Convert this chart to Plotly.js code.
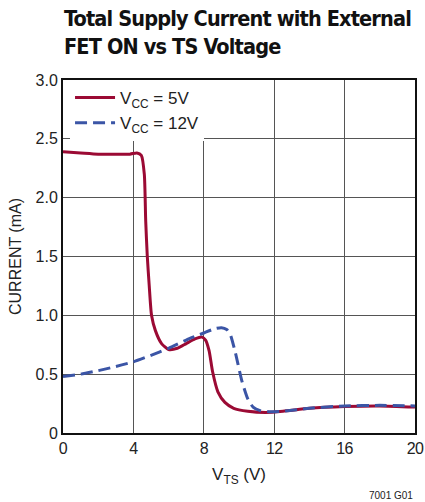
<!DOCTYPE html>
<html><head><meta charset="utf-8">
<script src="https://cdn.plot.ly/plotly-3.0.1.min.js"></script>
<style>html,body{margin:0;padding:0;background:#fff}#chart{width:425px;height:502px}</style>
</head><body><div id="chart"></div>
<script>
const x5 = [0,1,2,3,3.8,4.2,4.45,4.62,4.7,4.79,4.9,5.03,5.25,5.6,6.0,6.5,7.0,7.5,7.9,8.1,8.3,8.5,8.8,9.2,9.7,10.5,11.5,12.5,14,16,18,20];
const y5 = [2.39,2.38,2.37,2.37,2.37,2.38,2.36,2.2,1.8,1.5,1.25,1.0,0.87,0.76,0.71,0.72,0.76,0.80,0.815,0.79,0.70,0.52,0.35,0.26,0.21,0.185,0.175,0.185,0.21,0.225,0.23,0.22];
const x12 = [0,1,2,3,4,5,6,7,8,8.6,9.0,9.3,9.5,9.8,10.15,10.5,10.8,11.2,11.8,12.5,14,16,18,20];
const y12 = [0.48,0.50,0.53,0.565,0.605,0.66,0.72,0.79,0.85,0.885,0.895,0.88,0.84,0.68,0.45,0.29,0.22,0.19,0.18,0.185,0.21,0.23,0.235,0.23];
const xTicks = [0,4,8,12,16,20];
const yTicks = [0,0.5,1,1.5,2,2.5,3];
const yTickText = ['0','0.5','1.0','1.5','2.0','2.5','3.0'];

const F = '"Liberation Sans", Arial, sans-serif';
const FC = '"DejaVu Sans Condensed", "Liberation Sans Narrow", sans-serif';
const data = [
  {x: x5, y: y5, mode: 'lines', name: 'V<sub>CC</sub> = 5V',
   line: {color: '#9b0a34', width: 3, shape: 'spline', smoothing: 0.6}},
  {x: x12, y: y12, mode: 'lines', name: 'V<sub>CC</sub> = 12V',
   line: {color: '#3b55a6', width: 3, dash: '12px,6px', shape: 'spline', smoothing: 0.6}}
];
const layout = {
  width: 425, height: 502,
  margin: {l: 63, r: 10, t: 80, b: 69},
  paper_bgcolor: '#fff', plot_bgcolor: '#fff',
  font: {family: F, size: 16, color: '#222'},
  xaxis: {range: [0, 20], tickvals: xTicks, ticktext: xTicks.map(String),
    showgrid: true, gridcolor: '#555', gridwidth: 1, zeroline: false,
    showline: true, linecolor: '#111', linewidth: 2, mirror: true, ticks: '',
    tickfont: {family: F, size: 16, color: '#222'},
    title: {text: 'V<sub>TS</sub> (V)', font: {family: F, size: 17, color: '#222'}, standoff: 12}},
  yaxis: {range: [0, 3], tickvals: yTicks, ticktext: yTickText,
    showgrid: true, gridcolor: '#555', gridwidth: 1, zeroline: false,
    showline: true, linecolor: '#111', linewidth: 2, mirror: true, ticks: '',
    tickfont: {family: F, size: 16, color: '#222'},
    title: {text: 'CURRENT (mA)', font: {family: F, size: 16, color: '#222'}, standoff: 10}},
  legend: {x: 0.02, y: 1.0, xanchor: 'left', yanchor: 'top', bgcolor: '#fff',
    font: {family: F, size: 17, color: '#222'}, tracegroupgap: 0, itemwidth: 40},
  showlegend: true,
  annotations: [
    {text: '<b>Total Supply Current with External<br>FET ON vs TS Voltage</b>',
     xref: 'paper', yref: 'paper', x: -0.003, y: 1.215, xanchor: 'left', yanchor: 'top',
     align: 'left', showarrow: false, font: {family: FC, size: 21.5, color: '#111'}},
    {text: '7001 G01', xref: 'paper', yref: 'paper', x: 1, y: -0.176,
     xanchor: 'right', yanchor: 'middle', showarrow: false, font: {family: F, size: 10, color: '#222'}}]
};
Plotly.newPlot('chart', data, layout, {displayModeBar: false, staticPlot: true}).then(function(gd){
  const t = gd.querySelectorAll('.annotation-text');
  if (t.length) { t[0].style.letterSpacing = '-0.85px'; }
  gd.querySelectorAll('.xtick text').forEach(function(e){ e.style.letterSpacing = '-0.6px'; });
});
</script></body></html>
